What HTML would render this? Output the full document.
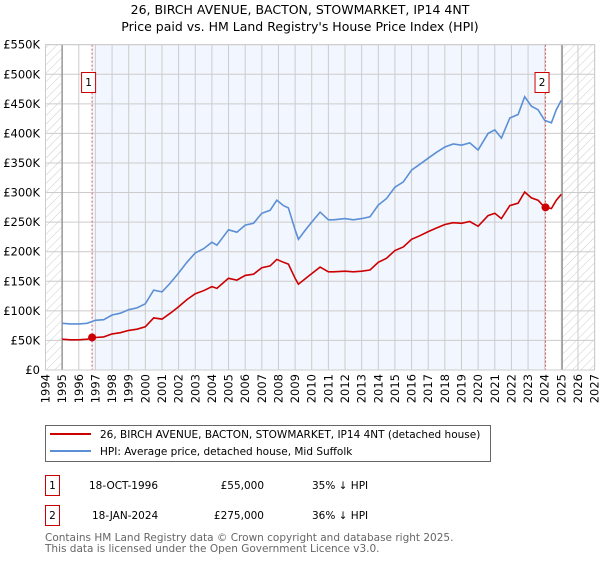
<!DOCTYPE html>
<html><head><meta charset="utf-8"><style>
body{margin:0;background:#fff;font-family:"DejaVu Sans","Liberation Sans",sans-serif;}
svg text{font-family:"DejaVu Sans","Liberation Sans",sans-serif;}
</style></head><body>
<svg id="c" width="600" height="560" xmlns="http://www.w3.org/2000/svg">
<defs><pattern id="hatch" width="6" height="6" patternUnits="userSpaceOnUse" patternTransform="rotate(45)"><line x1="0" y1="0" x2="0" y2="6" stroke="#ccc" stroke-width="1"/></pattern></defs>
<text x="300" y="14" text-anchor="middle" font-size="12.5">26, BIRCH AVENUE, BACTON, STOWMARKET, IP14 4NT</text>
<text x="300" y="31" text-anchor="middle" font-size="12.5">Price paid vs. HM Land Registry's House Price Index (HPI)</text>
<g id="plot"></g>
<g>
<rect x="45.5" y="425.5" width="445" height="36" fill="#fff" stroke="#666"/>
<line x1="50" y1="434" x2="91" y2="434" stroke="#cc0000" stroke-width="2"/>
<text x="100" y="438" font-size="10.5">26, BIRCH AVENUE, BACTON, STOWMARKET, IP14 4NT (detached house)</text>
<line x1="50" y1="451" x2="91" y2="451" stroke="#5b8fd6" stroke-width="2"/>
<text x="100" y="455" font-size="10.5">HPI: Average price, detached house, Mid Suffolk</text>
</g>
<g font-size="10.5">
<rect x="45.5" y="475.5" width="14" height="20" fill="none" stroke="#cc0000"/>
<text x="52.5" y="489" text-anchor="middle">1</text>
<text x="89" y="489">18-OCT-1996</text>
<text x="264" y="489" text-anchor="end">£55,000</text>
<text x="312" y="489">35% ↓ HPI</text>
<rect x="45.5" y="505.5" width="14" height="20" fill="none" stroke="#cc0000"/>
<text x="52.5" y="519" text-anchor="middle">2</text>
<text x="92" y="519">18-JAN-2024</text>
<text x="264" y="519" text-anchor="end">£275,000</text>
<text x="312" y="519">36% ↓ HPI</text>
</g>
<text x="45" y="541" font-size="10.5" fill="#666">Contains HM Land Registry data © Crown copyright and database right 2025.</text>
<text x="45" y="552" font-size="10.5" fill="#666">This data is licensed under the Open Government Licence v3.0.</text>
</svg>
<script>
const hpiYears=[1995,1995.5,1996,1996.5,1997,1997.5,1998,1998.5,1999,1999.5,2000,2000.5,2001,2001.5,2002,2002.5,2003,2003.5,2004,2004.3,2005,2005.5,2006,2006.5,2007,2007.5,2007.9,2008.3,2008.6,2009,2009.2,2009.6,2010,2010.5,2011,2011.3,2012,2012.5,2013,2013.5,2014,2014.5,2015,2015.5,2016,2016.5,2017,2017.5,2018,2018.5,2019,2019.5,2020,2020.6,2021,2021.4,2021.9,2022.4,2022.8,2023.2,2023.6,2024,2024.4,2024.7,2025];
const hpiValues=[79,78,78,79,84,85,93,96,102,105,112,135,132,147,164,182,198,205,216,211,237,233,245,248,265,270,287,278,274,237,221,236,250,267,254,254,256,254,256,259,279,290,309,318,338,348,358,368,377,382,380,384,372,400,406,392,426,432,462,446,440,422,418,440,456];
const paidYears=hpiYears;
const paidValues=[52,51,51,52,55,56,61,63,67,69,73,88,86,96,107,119,129,134,141,138,155,152,160,162,173,176,187,182,179,155,145,154,163,174,166,166,167,166,167,169,182,189,202,208,221,227,234,240,246,249,248,251,243,261,265,256,278,282,301,291,287,275,273,287,297];
const sales=[[1996.8,55,"1"],[2024.05,275,"2"]];
const yTicks=[0,50,100,150,200,250,300,350,400,450,500,550];
const yLabels=["£0","£50K","£100K","£150K","£200K","£250K","£300K","£350K","£400K","£450K","£500K","£550K"];
const xTicks=[];for(let y=1994;y<=2027;y++)xTicks.push(y);
const X=y=>45.5+(y-1994)*16.64, Y=v=>370-v*0.5915;
const NS="http://www.w3.org/2000/svg", g=document.getElementById('plot');
function mk(t,a){const e=document.createElementNS(NS,t);for(const k in a)e.setAttribute(k,a[k]);g.appendChild(e);return e;}
let e;
e=mk('rect',{x:X(1994),y:Y(550),width:X(2027)-X(1994),height:Y(0)-Y(550),fill:'#fff'});
e=mk('rect',{x:X(sales[0][0]),y:Y(550),width:X(sales[1][0])-X(sales[0][0]),height:Y(0)-Y(550),fill:'#f2f6fe'});

e=mk('rect',{x:X(1994),y:Y(550),width:X(1995)-X(1994),height:Y(0)-Y(550),fill:'url(#hatch)'});

e=mk('rect',{x:X(2025.05),y:Y(550),width:X(2027)-X(2025.05),height:Y(0)-Y(550),fill:'url(#hatch)'});

yTicks.forEach((v,i)=>{
 e=mk('line',{x1:X(1994),x2:X(2027),y1:Y(v),y2:Y(v),stroke:'#ccc'});
 
 e=mk('text',{x:40,y:Y(v)+4,'text-anchor':'end','font-size':'11.5'});e.textContent=yLabels[i];
 
});
xTicks.forEach(yr=>{
 e=mk('line',{x1:X(yr),x2:X(yr),y1:Y(550),y2:Y(0),stroke:'#ccc'});
 
 e=mk('text',{x:0,y:0,'text-anchor':'end','font-size':'11.5',transform:`translate(${X(yr)+4},374) rotate(-90)`});e.textContent=yr;
 
});
[1995,2025.05].forEach(yr=>{e=mk('line',{x1:X(yr),x2:X(yr),y1:Y(550),y2:Y(0),stroke:'#999','stroke-width':1.5});
 });
sales.forEach(s=>{e=mk('line',{x1:X(s[0]),x2:X(s[0]),y1:Y(550),y2:Y(0),stroke:'#e05050','stroke-dasharray':'2,2'});
 });
function path(xs,vs,col,name){e=mk('path',{d:xs.map((x,i)=>(i?'L':'M')+X(x).toFixed(1)+','+Y(vs[i]).toFixed(1)).join(''),fill:'none',stroke:col,'stroke-width':1.6});
 }
path(hpiYears,hpiValues,'#5b8fd6','hpi-line');
path(paidYears,paidValues,'#cc0000','property-line');
sales.forEach(s=>{
 e=mk('circle',{cx:X(s[0]),cy:Y(s[1]),r:4,fill:'#cc0000'});
 
 e=mk('rect',{x:X(s[0])-10.5,y:72.5,width:14,height:20,fill:'#fff',stroke:'#cc0000'});
 
 e=mk('text',{x:X(s[0])-3.5,y:86,'text-anchor':'middle','font-size':'10.5'});e.textContent=s[2];
 
});
e=mk('rect',{x:X(1994),y:Y(550),width:X(2027)-X(1994),height:Y(0)-Y(550),fill:'none',stroke:'#ccc'});
</script>
</body></html>
